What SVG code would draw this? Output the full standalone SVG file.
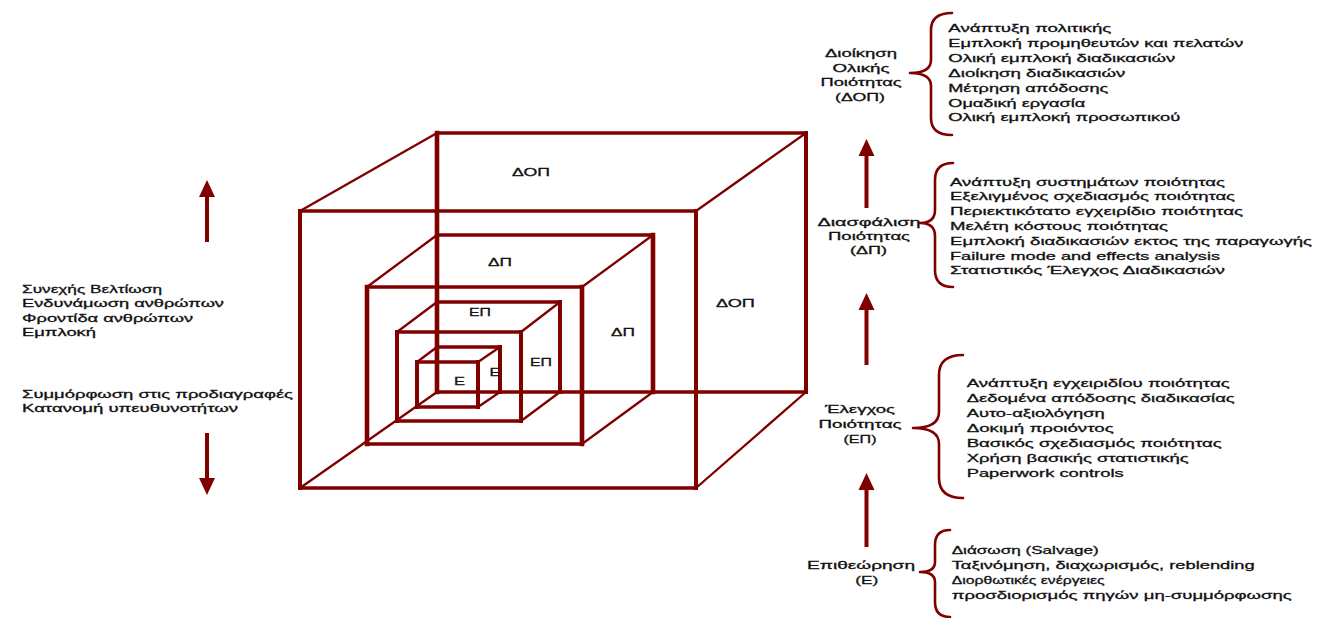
<svg xmlns="http://www.w3.org/2000/svg" width="1326" height="618" viewBox="0 0 1326 618">
<style>
.h{stroke:#800000;stroke-width:3.3;fill:none;stroke-linecap:square}
.v{stroke:#800000;stroke-width:4;fill:none;stroke-linecap:square}
.vt{stroke:#800000;stroke-width:4.6;fill:none;stroke-linecap:square}
.d{stroke:#800000;stroke-width:2.3;fill:none;stroke-linecap:round}
.br{stroke:#800000;stroke-width:2.6;fill:none;stroke-linecap:round;stroke-linejoin:round}
.ln{stroke:#800000;stroke-width:4;fill:none}
.hd{fill:#800000}
text{font-family:"Liberation Sans",Arial,sans-serif;font-size:11px;fill:#111;stroke:#111;stroke-width:0.3}
.c{text-anchor:middle}
</style>
<rect width="1326" height="618" fill="#fff"/>
<g id="cube-dop">
<path class="h" d="M300 211H696M300 488H696M437 133H806M437 392H806"/>
<path class="v" d="M300 211V488M696 211V488M806 133V392"/>
<path class="vt" d="M437 133V392"/>
<path class="d" d="M300 211L437 133M696 211L806 133M696 488L806 392M300 488L437 392"/>
<text class="c" x="531" y="176" textLength="38" lengthAdjust="spacingAndGlyphs">ΔΟΠ</text>
<text class="c" x="735.5" y="307" textLength="39" lengthAdjust="spacingAndGlyphs">ΔΟΠ</text>
</g>
<g id="cube-dp">
<path class="h" d="M367 287H582M367 444H582M437 235H653"/>
<path class="vt" d="M367 287V444M582 287V444M653 235V392"/>
<path class="d" d="M367 287L437 235M582 287L653 235M582 444L653 392"/>
<text class="c" x="500" y="266" textLength="24" lengthAdjust="spacingAndGlyphs">ΔΠ</text>
<text class="c" x="623" y="336" textLength="24" lengthAdjust="spacingAndGlyphs">ΔΠ</text>
</g>
<g id="cube-ep">
<path class="h" d="M397 332H521M397 421H521M437 302H560"/>
<path class="v" d="M397 332V421M521 332V421M560 302V392"/>
<path class="d" d="M397 332L437 302M521 332L560 302M521 421L560 392"/>
<text class="c" x="480" y="316" textLength="22" lengthAdjust="spacingAndGlyphs">ΕΠ</text>
<text class="c" x="541" y="366" textLength="22" lengthAdjust="spacingAndGlyphs">ΕΠ</text>
</g>
<g id="cube-e">
<path class="h" d="M417 362H478M417 407H478M437 347H500"/>
<path class="v" d="M417 362V407M478 362V407M500 347V392"/>
<path class="d" d="M417 362L437 347M478 362L500 347M478 407L500 392"/>
<text class="c" x="495" y="376" textLength="11" lengthAdjust="spacingAndGlyphs">Ε</text>
<text class="c" x="459.5" y="385" textLength="11" lengthAdjust="spacingAndGlyphs">Ε</text>
</g>
<g id="left-text">
<text x="22" y="292.5" textLength="140" lengthAdjust="spacingAndGlyphs">Συνεχής Βελτίωση</text>
<text x="22" y="307" textLength="202" lengthAdjust="spacingAndGlyphs">Ενδυνάμωση ανθρώπων</text>
<text x="22" y="321.5" textLength="171" lengthAdjust="spacingAndGlyphs">Φροντίδα ανθρώπων</text>
<text x="22" y="336" textLength="74" lengthAdjust="spacingAndGlyphs">Εμπλοκή</text>
<text x="22" y="397.5" textLength="271" lengthAdjust="spacingAndGlyphs">Συμμόρφωση στις προδιαγραφές</text>
<text x="22" y="412" textLength="216" lengthAdjust="spacingAndGlyphs">Κατανομή υπευθυνοτήτων</text>
</g>
<g id="level-dop">
<text class="c" x="861" y="57" textLength="72" lengthAdjust="spacingAndGlyphs">Διοίκηση</text>
<text class="c" x="861" y="71.5" textLength="57" lengthAdjust="spacingAndGlyphs">Ολικής</text>
<text class="c" x="861" y="86" textLength="81" lengthAdjust="spacingAndGlyphs">Ποιότητας</text>
<text class="c" x="860" y="100.5" textLength="50" lengthAdjust="spacingAndGlyphs">(ΔΟΠ)</text>
<path class="br" d="M952 13Q931 13 931 30V60Q931 73 910 73Q931 73 931 86V118Q931 135 952 135"/>
<text x="948.3" y="32" textLength="163" lengthAdjust="spacingAndGlyphs">Ανάπτυξη πολιτικής</text>
<text x="948.3" y="46.9" textLength="295" lengthAdjust="spacingAndGlyphs">Εμπλοκή προμηθευτών και πελατών</text>
<text x="948.3" y="61.8" textLength="227" lengthAdjust="spacingAndGlyphs">Ολική εμπλοκή διαδικασιών</text>
<text x="948.3" y="76.7" textLength="177" lengthAdjust="spacingAndGlyphs">Διοίκηση διαδικασιών</text>
<text x="948.3" y="91.6" textLength="160" lengthAdjust="spacingAndGlyphs">Μέτρηση απόδοσης</text>
<text x="948.3" y="106.5" textLength="137" lengthAdjust="spacingAndGlyphs">Ομαδική εργασία</text>
<text x="948.3" y="121.4" textLength="232" lengthAdjust="spacingAndGlyphs">Ολική εμπλοκή προσωπικού</text>
</g>
<g id="level-dp">
<text class="c" x="869" y="225.5" textLength="103" lengthAdjust="spacingAndGlyphs">Διασφάλιση</text>
<text class="c" x="869" y="239.5" textLength="82" lengthAdjust="spacingAndGlyphs">Ποιότητας</text>
<text class="c" x="868.5" y="254" textLength="37" lengthAdjust="spacingAndGlyphs">(ΔΠ)</text>
<path class="br" d="M953 163Q935 163 935 180V210Q935 223 920 223Q935 223 935 236V270Q935 287 953 287"/>
<text x="950" y="185.5" textLength="275" lengthAdjust="spacingAndGlyphs">Ανάπτυξη συστημάτων ποιότητας</text>
<text x="950" y="200.3" textLength="285" lengthAdjust="spacingAndGlyphs">Εξελιγμένος σχεδιασμός ποιότητας</text>
<text x="950" y="215.1" textLength="293" lengthAdjust="spacingAndGlyphs">Περιεκτικότατο εγχειρίδιο ποιότητας</text>
<text x="950" y="229.9" textLength="218" lengthAdjust="spacingAndGlyphs">Μελέτη κόστους ποιότητας</text>
<text x="950" y="244.7" textLength="362" lengthAdjust="spacingAndGlyphs">Εμπλοκή διαδικασιών εκτος της παραγωγής</text>
<text x="950" y="259.5" textLength="270" lengthAdjust="spacingAndGlyphs">Failure mode and effects analysis</text>
<text x="950" y="274.3" textLength="275" lengthAdjust="spacingAndGlyphs">Στατιστικός Έλεγχος Διαδικασιών</text>
</g>
<g id="level-ep">
<text class="c" x="860" y="413" textLength="70" lengthAdjust="spacingAndGlyphs">Έλεγχος</text>
<text class="c" x="860" y="427.5" textLength="83" lengthAdjust="spacingAndGlyphs">Ποιότητας</text>
<text class="c" x="860" y="442.5" textLength="33" lengthAdjust="spacingAndGlyphs">(ΕΠ)</text>
<path class="br" d="M963 355Q939 355 939 375V412Q939 428 913 428Q939 428 939 444V478Q939 498 963 498"/>
<text x="966.7" y="387.3" textLength="263" lengthAdjust="spacingAndGlyphs">Ανάπτυξη εγχειριδίου ποιότητας</text>
<text x="966.7" y="402.2" textLength="268" lengthAdjust="spacingAndGlyphs">Δεδομένα απόδοσης διαδικασίας</text>
<text x="966.7" y="417.1" textLength="138" lengthAdjust="spacingAndGlyphs">Αυτο-αξιολόγηση</text>
<text x="966.7" y="432" textLength="147" lengthAdjust="spacingAndGlyphs">Δοκιμή προιόντος</text>
<text x="966.7" y="446.9" textLength="255" lengthAdjust="spacingAndGlyphs">Βασικός σχεδιασμός ποιότητας</text>
<text x="966.7" y="461.8" textLength="222" lengthAdjust="spacingAndGlyphs">Χρήση βασικής στατιστικής</text>
<text x="966.7" y="476.7" textLength="157" lengthAdjust="spacingAndGlyphs">Paperwork controls</text>
</g>
<g id="level-e">
<text class="c" x="861" y="569" textLength="108" lengthAdjust="spacingAndGlyphs">Επιθεώρηση</text>
<text class="c" x="866.7" y="584" textLength="23" lengthAdjust="spacingAndGlyphs">(Ε)</text>
<path class="br" d="M950 530Q935 530 935 545V562Q935 572 920 572Q935 572 935 582V602Q935 617 950 617"/>
<text x="951.7" y="554" textLength="147" lengthAdjust="spacingAndGlyphs">Διάσωση (Salvage)</text>
<text x="951.7" y="569" textLength="303" lengthAdjust="spacingAndGlyphs">Ταξινόμηση, διαχωρισμός, reblending</text>
<text x="951.7" y="584" textLength="153" lengthAdjust="spacingAndGlyphs">Διορθωτικές ενέργειες</text>
<text x="951.7" y="599" textLength="340" lengthAdjust="spacingAndGlyphs">προσδιορισμός πηγών μη-συμμόρφωσης</text>
</g>
<g id="connectors">
<path class="ln" d="M207 196V242"/>
<polygon class="hd" points="207,180 199,197 215,197"/>
<path class="ln" d="M207 433V479"/>
<polygon class="hd" points="199,478 215,478 207,495"/>
<path class="ln" d="M866.5 155V208"/>
<polygon class="hd" points="866.5,139 858.5,156 874.5,156"/>
<path class="ln" d="M866.5 309V365"/>
<polygon class="hd" points="866.5,293 858.5,310 874.5,310"/>
<path class="ln" d="M866.5 489V547"/>
<polygon class="hd" points="866.5,473 858.5,490 874.5,490"/>
</g>
</svg>
